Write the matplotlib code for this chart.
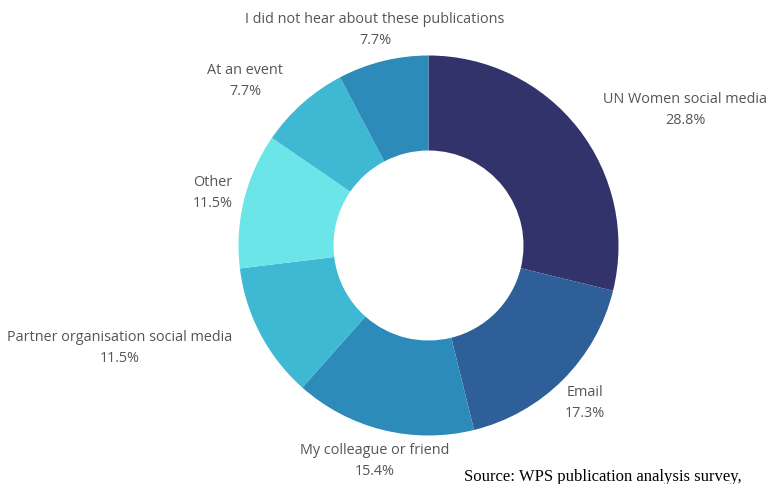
import matplotlib
matplotlib.use("Agg")
import matplotlib.pyplot as plt

# Survey responses: how respondents heard about the publications (clockwise from 12 o'clock)
categories = [
    "UN Women social media",
    "Email",
    "My colleague or friend",
    "Partner organisation social media",
    "Other",
    "At an event",
    "I did not hear about these publications",
]
shares = [28.8, 17.3, 15.4, 11.5, 11.5, 7.7, 7.7]
colors = ["#31336A", "#2E5F98", "#2D8BBA", "#3FB9D3", "#6BE5E8", "#3FB9D3", "#2D8BBA"]

# Label anchor points in figure pixels (x, y from top)
label_pos = [
    (685, 110),
    (585, 403),
    (375, 461),
    (120, 348),
    (213, 193),
    (245, 81),
    (375, 30),
]

W, H = 768, 485
fig = plt.figure(figsize=(W / 100, H / 100), dpi=100)
ax = fig.add_axes([0, 0, 1, 1])

cx, cy, r = 428.5, H - 246.5, 190
ax.pie(
    shares,
    colors=colors,
    startangle=90,
    counterclock=False,
    radius=r,
    center=(cx, cy),
    wedgeprops=dict(width=r * 0.5, linewidth=0),
    frame=True,
)
ax.set_xlim(0, W)
ax.set_ylim(0, H)
ax.set_aspect("equal")
ax.axis("off")

font = "Open Sans"
for name, val, (x, y) in zip(categories, shares, label_pos):
    ax.text(x, H - y, f"{name}\n{val:.1f}%", ha="center", va="center",
            fontsize=10.4, family=font, color="#555555", linespacing=1.6)

ax.text(464, H - 481, "Source: WPS publication analysis survey,", ha="left", va="baseline",
        fontsize=12, family="Liberation Serif", color="black")

fig.savefig("out.png", dpi=100)
